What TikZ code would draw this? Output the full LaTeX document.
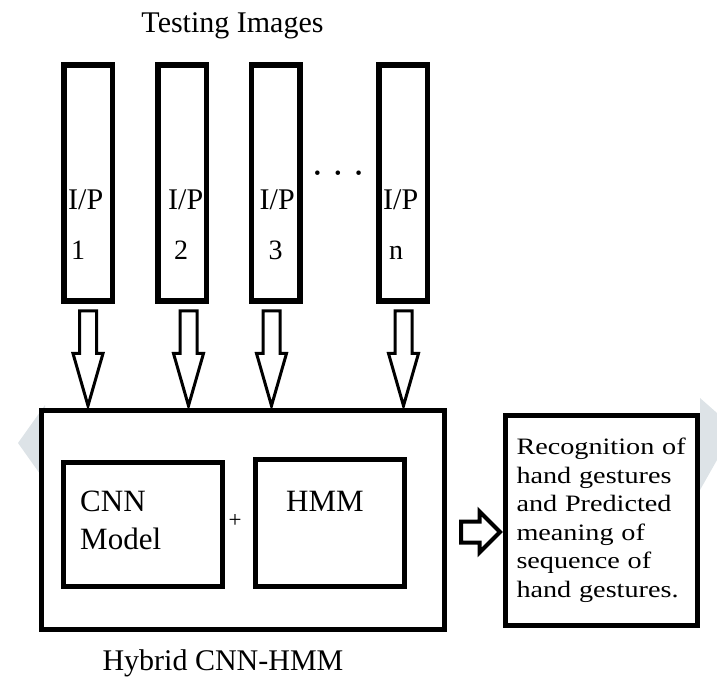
\documentclass[tikz,border=0pt]{standalone}
\usepackage{fontspec}
\setmainfont{Liberation Serif}
\newfontfamily\wideserif[FakeStretch=1.2]{Liberation Serif}
\usepackage{tikz}
\usetikzlibrary{positioning, shapes.arrows}
\definecolor{markgrey}{HTML}{DDE3E7}

\begin{document}
\begin{tikzpicture}[
  x=1pt, y=-1pt,
  bar/.style     ={draw, line width=5.5pt, minimum width=48.5pt,
                   minimum height=236pt, inner sep=0pt},
  iptext/.style  ={font=\fontsize{30}{30}\selectfont, inner sep=0pt, anchor=base west},
  numtext/.style ={font=\fontsize{28}{28}\selectfont, inner sep=0pt, anchor=base west},
  frame/.style   ={draw, fill=white, line width=5pt, inner sep=0pt},
  boxtext/.style ={font=\fontsize{31}{38}\selectfont, align=left, inner sep=0pt,
                   anchor=north west},
  caption/.style ={font=\fontsize{30}{30}\selectfont, inner sep=0pt, anchor=base},
  downarrow/.style ={single arrow, draw, fill=white, line width=3pt,
                     shape border rotate=270, inner sep=7pt,
                     single arrow head extend=6.5pt, single arrow tip angle=32,
                     minimum height=95pt, anchor=tail},
  sidearrow/.style ={single arrow, draw, fill=white, line width=4pt,
                     inner sep=8.5pt, single arrow head extend=10pt,
                     minimum height=39pt, anchor=tail},
]
\useasboundingbox (0,0) rectangle (717,677);

% faint marks at the page edges
\fill[markgrey] (18,443) -- (45,405) -- (45,481) -- cycle;
\fill[markgrey] (700,398) -- (717,413) -- (717,460) -- (700,490) -- cycle;

\node[caption] (testing) at (232.5,33) {Testing Images};

% input images
\node[bar] (ip1) at (88,183) {};
\node[bar, right=40pt of ip1]   (ip2) {};
\node[bar, right=39.5pt of ip2] (ip3) {};
\node[bar, right=73.5pt of ip3] (ipn) {};

\node[iptext]  (lab1) at ([xshift=7pt,yshift=94pt]ip1.south west)  {I/P};
\node[numtext] (num1) at ([xshift=10pt,yshift=44pt]ip1.south west) {1};
\node[iptext]  (lab2) at ([xshift=13pt,yshift=94pt]ip2.south west) {I/P};
\node[numtext] (num2) at ([xshift=19pt,yshift=44pt]ip2.south west) {2};
\node[iptext]  (lab3) at ([xshift=11pt,yshift=94pt]ip3.south west) {I/P};
\node[numtext] (num3) at ([xshift=20pt,yshift=44pt]ip3.south west) {3};
\node[iptext]  (labn) at ([xshift=7pt,yshift=94pt]ipn.south west)  {I/P};
\node[numtext] (numn) at ([xshift=13pt,yshift=44pt]ipn.south west) {n};

\node[inner sep=0pt] (dots) at (338,175) {\fontsize{19}{19}\selectfont
  \textbullet\hspace{14pt}\textbullet\hspace{14pt}\textbullet};

% hybrid model
\node[frame, minimum width=403pt, minimum height=219pt] (hybrid) at (243,520) {};
\node[frame, minimum width=159pt, minimum height=124pt] (cnn) at (143,524.5) {};
\node[frame, minimum width=149pt, minimum height=127pt] (hmm) at (330,523) {};
\node[boxtext] (cnntext) at (80,491) {CNN\\Model};
\node[boxtext] (hmmtext) at (286,491) {HMM};
\node[font=\fontsize{23}{23}\selectfont, inner sep=0pt] (plus) at (235,521) {+};
\node[caption] (hybridlab) at (223,670) {Hybrid CNN-HMM};

\node[downarrow] (a1) at ([yshift=-5.5pt]ip1.south) {};
\node[downarrow] (a2) at ([xshift=6.5pt,yshift=-5.5pt]ip2.south) {};
\node[downarrow] (a3) at ([xshift=-4pt,yshift=-5.5pt]ip3.south) {};
\node[downarrow] (an) at ([xshift=0.5pt,yshift=-5.5pt]ipn.south) {};

% result
\node[frame, minimum width=192pt, minimum height=210pt, text width=170pt,
      align=left, font=\wideserif\fontsize{23.5}{28.5}\selectfont] (result)
      at (601.5,520.5)
      {Recognition of\\hand gestures\\and Predicted\\meaning of\\sequence of\\hand gestures.};

\node[sidearrow] (go) at ([xshift=12pt,yshift=-12pt]hybrid.east) {};

\end{tikzpicture}
\end{document}
